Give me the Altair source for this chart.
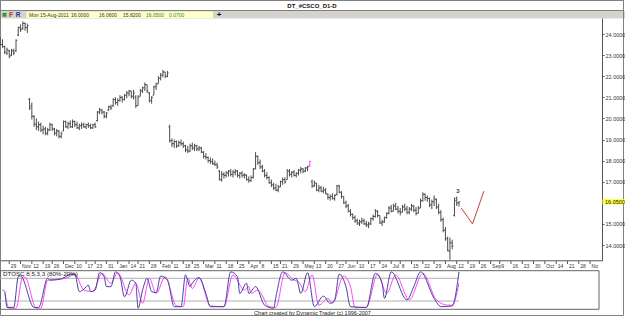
import altair as alt
import numpy as np
import pandas as pd

# ---------------- data ----------------
start_date = "2010-10-25"
holidays = ["2010-11-25", "2010-12-24", "2011-01-17", "2011-02-21", "2011-04-22",
            "2011-05-30", "2011-07-04", "2011-09-05"]

high = [23.85, 23.75, 23.45, 23.35, 23.25, 23.30, 23.30, 23.75, 24.35, 24.45,
        24.60, 24.55, 24.50, 20.97, 20.75, 20.15, 20.00, 19.85, 19.80, 19.65,
        19.60, 19.55, 19.80, 19.75, 19.55, 19.50, 19.45, 19.35, 19.90, 19.90,
        19.85, 19.90, 19.95, 19.90, 19.85, 19.75, 19.80, 19.80, 19.75, 19.80,
        19.75, 19.75, 19.80, 20.35, 20.50, 20.45, 20.35, 20.30, 20.60, 20.65,
        20.95, 21.00, 20.95, 21.10, 21.05, 21.15, 21.30, 21.35, 21.30, 21.35,
        21.10, 21.10, 21.40, 21.50, 21.70, 21.60, 21.25, 21.05, 21.55, 21.70,
        22.00, 22.15, 22.30, 22.20, 22.25, 19.70, 19.05, 19.00, 18.95, 18.95,
        19.00, 18.90, 18.75, 18.70, 18.80, 18.85, 18.80, 18.75, 18.70, 18.65,
        18.45, 18.35, 18.20, 18.15, 18.10, 18.00, 17.90, 17.55, 17.50, 17.45,
        17.50, 17.55, 17.60, 17.55, 17.60, 17.55, 17.45, 17.50, 17.40, 17.35,
        17.25, 17.30, 17.65, 18.40, 18.25, 18.05, 17.80, 17.60, 17.45, 17.25,
        17.10, 16.95, 16.90, 16.85, 17.05, 17.20, 17.20, 17.60, 17.60, 17.50,
        17.55, 17.45, 17.60, 17.70, 17.65, 17.70, 17.75, 18.00, 17.10, 17.05,
        16.95, 16.85, 16.80, 16.75, 16.70, 16.45, 16.40, 16.45, 16.40, 16.85,
        16.85, 16.55, 16.30, 16.10, 15.95, 15.70, 15.50, 15.40, 15.25, 15.20,
        15.30, 15.25, 15.15, 15.10, 15.30, 15.45, 15.70, 15.65, 15.40, 15.20,
        15.35, 15.55, 15.85, 15.90, 15.95, 16.00, 15.85, 15.75, 15.90, 15.95,
        15.85, 15.80, 15.95, 15.90, 15.80, 15.85, 16.20, 16.50, 16.45, 16.35,
        16.25, 16.15, 16.35, 16.20, 15.95, 15.65, 15.30, 14.85, 14.40, 14.35,
        14.25, 16.25, 16.30, 16.06]
low = [23.45, 23.35, 23.05, 23.00, 22.85, 22.95, 23.00, 23.15, 23.90, 24.10,
       24.20, 24.15, 24.05, 20.40, 19.95, 19.60, 19.45, 19.40, 19.35, 19.25,
       19.20, 19.20, 19.40, 19.40, 19.20, 19.15, 19.05, 19.05, 19.40, 19.55,
       19.50, 19.55, 19.55, 19.60, 19.50, 19.45, 19.50, 19.55, 19.50, 19.55,
       19.50, 19.50, 19.55, 19.85, 20.20, 20.20, 20.00, 20.00, 20.35, 20.40,
       20.55, 20.65, 20.60, 20.80, 20.75, 20.85, 20.95, 21.05, 20.95, 20.90,
       20.50, 20.60, 21.05, 21.20, 21.30, 21.20, 20.75, 20.70, 21.10, 21.35,
       21.65, 21.80, 21.95, 21.90, 21.95, 18.85, 18.65, 18.60, 18.60, 18.65,
       18.70, 18.60, 18.40, 18.35, 18.40, 18.50, 18.45, 18.45, 18.45, 18.35,
       18.10, 18.05, 17.90, 17.85, 17.80, 17.75, 17.60, 17.05, 17.00, 17.15,
       17.20, 17.25, 17.25, 17.20, 17.30, 17.20, 17.15, 17.20, 17.15, 17.05,
       16.95, 17.00, 17.15, 17.60, 17.80, 17.60, 17.45, 17.20, 17.10, 16.90,
       16.75, 16.60, 16.55, 16.50, 16.75, 16.85, 16.90, 17.10, 17.25, 17.20,
       17.25, 17.20, 17.30, 17.40, 17.40, 17.45, 17.50, 17.70, 16.70, 16.75,
       16.55, 16.50, 16.50, 16.45, 16.40, 16.15, 16.10, 16.15, 16.10, 16.35,
       16.45, 16.20, 15.95, 15.75, 15.55, 15.35, 15.20, 15.05, 14.95, 14.90,
       15.00, 14.95, 14.85, 14.80, 14.95, 15.15, 15.30, 15.30, 15.00, 14.90,
       15.05, 15.25, 15.45, 15.55, 15.60, 15.65, 15.50, 15.40, 15.55, 15.60,
       15.45, 15.45, 15.60, 15.55, 15.40, 15.50, 15.75, 16.05, 16.10, 16.05,
       15.80, 15.70, 15.85, 15.70, 15.45, 15.10, 14.60, 14.20, 13.70, 13.30,
       13.80, 15.35, 15.85, 15.82]
open_ = [23.80, 23.50, 23.40, 23.10, 23.20, 23.00, 23.20, 23.20, 23.95, 24.30,
         24.25, 24.50, 24.30, 20.90, 20.60, 20.10, 19.70, 19.60, 19.70, 19.45,
         19.50, 19.30, 19.45, 19.70, 19.50, 19.30, 19.40, 19.15, 19.40, 19.85,
         19.60, 19.75, 19.60, 19.85, 19.70, 19.55, 19.65, 19.70, 19.60, 19.70,
         19.65, 19.55, 19.70, 19.90, 20.30, 20.40, 20.30, 20.10, 20.40, 20.55,
         20.60, 20.90, 20.75, 20.85, 21.00, 20.90, 21.10, 21.20, 21.30, 21.05,
         21.00, 20.60, 21.05, 21.30, 21.45, 21.60, 21.20, 20.85, 21.10, 21.50,
         21.65, 21.90, 22.05, 22.20, 22.00, 19.60, 18.95, 18.80, 18.90, 18.70,
         18.85, 18.80, 18.70, 18.50, 18.45, 18.70, 18.60, 18.70, 18.55, 18.60,
         18.40, 18.20, 18.15, 18.00, 17.95, 17.85, 17.80, 17.50, 17.10, 17.35,
         17.30, 17.40, 17.50, 17.35, 17.45, 17.50, 17.30, 17.40, 17.30, 17.30,
         17.10, 17.05, 17.20, 17.60, 18.20, 17.90, 17.70, 17.50, 17.30, 17.20,
         16.95, 16.85, 16.70, 16.60, 16.75, 17.00, 17.10, 17.10, 17.50, 17.35,
         17.45, 17.30, 17.40, 17.55, 17.60, 17.50, 17.65, 17.75, 17.00, 16.80,
         16.90, 16.60, 16.70, 16.55, 16.60, 16.40, 16.25, 16.30, 16.20, 16.40,
         16.80, 16.50, 16.30, 16.00, 15.85, 15.60, 15.45, 15.30, 15.15, 15.00,
         15.10, 15.15, 15.00, 14.95, 15.00, 15.25, 15.35, 15.60, 15.40, 15.05,
         15.10, 15.30, 15.50, 15.75, 15.60, 15.85, 15.70, 15.60, 15.55, 15.80,
         15.70, 15.55, 15.70, 15.85, 15.65, 15.50, 15.75, 16.10, 16.40, 16.25,
         16.20, 15.90, 16.05, 16.15, 15.80, 15.55, 15.20, 14.70, 14.30, 13.70,
         14.10, 15.40, 16.20, 16.00]
close = [23.50, 23.40, 23.15, 23.25, 22.95, 23.20, 23.10, 23.70, 24.30, 24.20,
         24.50, 24.30, 24.40, 20.50, 20.10, 19.75, 19.60, 19.70, 19.45, 19.50,
         19.30, 19.45, 19.70, 19.50, 19.30, 19.40, 19.15, 19.30, 19.85, 19.60,
         19.75, 19.60, 19.85, 19.70, 19.55, 19.65, 19.70, 19.60, 19.70, 19.65,
         19.55, 19.70, 19.60, 20.30, 20.40, 20.30, 20.10, 20.25, 20.55, 20.50,
         20.90, 20.75, 20.85, 21.00, 20.90, 21.10, 21.20, 21.30, 21.05, 21.20,
         20.60, 21.00, 21.30, 21.45, 21.60, 21.30, 20.85, 21.00, 21.50, 21.60,
         21.90, 22.05, 22.20, 22.00, 22.15, 18.95, 18.80, 18.90, 18.70, 18.85,
         18.80, 18.70, 18.50, 18.45, 18.70, 18.60, 18.70, 18.55, 18.60, 18.40,
         18.20, 18.15, 18.00, 17.95, 17.85, 17.80, 17.70, 17.10, 17.35, 17.30,
         17.45, 17.50, 17.35, 17.45, 17.50, 17.30, 17.40, 17.30, 17.35, 17.10,
         17.05, 17.20, 17.60, 18.20, 17.90, 17.70, 17.50, 17.30, 17.20, 16.95,
         16.85, 16.70, 16.60, 16.75, 17.00, 17.10, 17.00, 17.50, 17.35, 17.45,
         17.30, 17.40, 17.55, 17.60, 17.50, 17.65, 17.70, 17.95, 16.80, 16.95,
         16.60, 16.70, 16.55, 16.60, 16.45, 16.25, 16.30, 16.20, 16.35, 16.80,
         16.50, 16.30, 16.00, 15.85, 15.60, 15.45, 15.30, 15.15, 15.05, 15.10,
         15.15, 15.00, 14.95, 15.00, 15.25, 15.35, 15.60, 15.40, 15.05, 15.10,
         15.30, 15.50, 15.75, 15.60, 15.85, 15.70, 15.60, 15.55, 15.80, 15.70,
         15.55, 15.70, 15.85, 15.65, 15.50, 15.75, 16.10, 16.40, 16.25, 16.20,
         15.90, 16.05, 16.20, 15.80, 15.55, 15.20, 14.70, 14.30, 13.75, 14.10,
         13.95, 16.10, 15.98, 16.05]
flagged_bars = [137]

# oscillator (DTOSC 8,5,3,3): fast line and slow line, read at bar indices
k_idx = [1, 2, 3, 6, 8, 9, 15, 17, 21, 22, 26, 29, 31, 33, 35, 37, 39, 40, 42, 44,
         46, 47, 49, 51, 53, 55, 58, 60, 61, 63, 65, 67, 69, 71, 74, 77, 80, 82, 84, 85,
         88, 91, 93, 99, 102, 105, 106, 109, 110, 113, 117, 121, 122, 125, 129, 131, 133, 136, 139, 143,
         146, 148, 150, 153, 155, 162, 166, 169, 170, 173, 180, 183, 186, 192, 195, 200, 203]
k_val = [49, 45, 3, 3, 84, 86, 3, 3, 80, 75, 77, 84, 91, 91, 45, 51, 62, 45, 49, 95,
         84, 58, 58, 97, 84, 31, 75, 67, 1, 49, 80, 45, 42, 86, 75, 5, 5, 89, 58, 67,
         82, 40, 5, 5, 97, 84, 40, 67, 40, 58, 9, 1, 31, 97, 75, 80, 40, 95, 5, 33,
         14, 23, 91, 58, 5, 3, 93, 67, 27, 97, 23, 58, 97, 27, 5, 7, 97]
d_idx = [2, 4, 7, 10, 11, 16, 18, 21, 29, 33, 37, 41, 45, 49, 52, 57, 60, 63, 66, 69,
         73, 78, 81, 83, 85, 88, 93, 99, 103, 108, 110, 111, 114, 119, 122, 126, 130, 132, 135, 138,
         141, 145, 147, 152, 155, 157, 162, 167, 171, 175, 181, 187, 193, 198, 200, 203]
d_val = [40, 1, 1, 84, 83, 1, 1, 75, 80, 91, 49, 45, 93, 67, 95, 36, 67, 14, 80, 40,
         84, 7, 5, 80, 53, 80, 7, 5, 89, 49, 58, 40, 49, 5, 3, 95, 75, 71, 45, 89,
         9, 27, 14, 86, 58, 3, 3, 91, 40, 89, 23, 93, 23, 9, 9, 67]
osc_levels = [80, 20]

proj_idx = [204, 209, 214]
proj_price = [15.75, 15.00, 16.55]
wave_label = "3"

price_ticks = [14, 15, 17, 18, 19, 20, 21, 22, 23, 24]
tick_dates = ["2010-10-29", "2010-11-05", "2010-11-12", "2010-11-19", "2010-11-26", "2010-12-03",
              "2010-12-10", "2010-12-17", "2010-12-23", "2010-12-31", "2011-01-07", "2011-01-14",
              "2011-01-21", "2011-01-28", "2011-02-04", "2011-02-11", "2011-02-18", "2011-02-25",
              "2011-03-04", "2011-03-11", "2011-03-18", "2011-03-25", "2011-04-01", "2011-04-08",
              "2011-04-15", "2011-04-21", "2011-04-29", "2011-05-06", "2011-05-13", "2011-05-20",
              "2011-05-27", "2011-06-03", "2011-06-10", "2011-06-17", "2011-06-24", "2011-07-01",
              "2011-07-08", "2011-07-15", "2011-07-22", "2011-07-29", "2011-08-05", "2011-08-12",
              "2011-08-19", "2011-08-26", "2011-09-02", "2011-09-09", "2011-09-16", "2011-09-23",
              "2011-09-30", "2011-10-07", "2011-10-14", "2011-10-21", "2011-10-28", "2011-11-04"]
tick_labels = ["29", "Nov", "12", "19", "26", "Dec", "10", "17", "23", "31", "Jan", "14", "21",
               "28", "Feb", "11", "18", "25", "Mar", "11", "18", "25", "Apr", "8", "15", "21",
               "29", "May", "13", "20", "27", "Jun", "10", "17", "24", "Jul", "8", "15", "22",
               "29", "Aug", "12", "19", "26", "Sep", "9", "16", "23", "30", "Oct", "14", "21",
               "28", "No"]

title_text = "DT_#CSCO_D1-D"
info_date = "Mon 15-Aug-2011"
osc_title = "DTOSC 8,5,3,3 (80%-20%)"
footer_text = "Chart created by Dynamic Trader  (c) 1996-2007"

# ---------------- layout constants ----------------
W, H = 602, 317
PX_DAY, X0 = 2.26, 0.2
FONT = "Liberation Sans"
BAR = "#4a4a4a"

xs = alt.Scale(domain=[(0 - X0) / PX_DAY, (W - X0) / PX_DAY], nice=False, zero=False)
ys = alt.Scale(domain=[24 - (H - 34) / 21.1, 24 + 34 / 21.1], nice=False, zero=False)
per, zero_y = 0.3783, 308.57
ysO = alt.Scale(domain=[-(H - zero_y) / per, zero_y / per], nice=False, zero=False)

yaxis = alt.Axis(orient="right", values=price_ticks, format=".4f", labelFontSize=5.5,
                 labelFont=FONT, labelColor="#333333", tickSize=2, tickColor="#555555",
                 labelPadding=1, domain=False, grid=False, title=None, zindex=1)


def X(f):
    return alt.X(f, type="quantitative", scale=xs, axis=None)


def Y(f):
    return alt.Y(f, type="quantitative", scale=ys, axis=yaxis)


def YO(f):
    return alt.Y(f, type="quantitative", scale=ysO, axis=None)


one = pd.DataFrame({"k": [0]})


def vrect(x, x2, y, y2, **kw):
    return alt.Chart(one).mark_rect(**kw).encode(
        x=alt.value(x), x2=alt.value(x2), y=alt.value(y), y2=alt.value(y2))


def hrule(x, x2, y, **kw):
    return alt.Chart(one).mark_rule(**kw).encode(x=alt.value(x), x2=alt.value(x2), y=alt.value(y))


def vline(x, y, y2, **kw):
    return alt.Chart(one).mark_rule(**kw).encode(x=alt.value(x), y=alt.value(y), y2=alt.value(y2))


def vtext(x, y, s, **kw):
    return alt.Chart(one).mark_text(**kw).encode(x=alt.value(x), y=alt.value(y), text=alt.value(s))


n = len(high)
assert len(low) == n and len(open_) == n and len(close) == n
bars = pd.DataFrame({"i": np.arange(n), "h": high, "l": low, "o": open_, "c": close})
bars["flag"] = bars["i"].isin(flagged_bars)

tick_idx = np.busday_count(start_date, tick_dates, holidays=holidays)
ticks = pd.DataFrame({"ti": tick_idx, "lab": tick_labels})

k_df = pd.DataFrame({"i": k_idx, "v": k_val})
d_df = pd.DataFrame({"i": d_idx, "v": d_val})
lev_df = pd.DataFrame({"v": osc_levels, "a": [xs.domain[0]] * 2, "b": [n - 1] * 2})
proj_df = pd.DataFrame({"i": proj_idx, "p": proj_price})

last_o, last_h, last_l, last_c = open_[-1], high[-1], low[-1], close[-1]
change = last_c - close[-2]

# ---------------- price group ----------------
bar_color = alt.condition(alt.datum.flag, alt.value("#ff40ff"), alt.value(BAR))

bar_rules = alt.Chart(bars).mark_rule(strokeWidth=1).encode(
    x=X("i"), y=Y("l"), y2=alt.Y2("h"), color=bar_color)
open_ticks = alt.Chart(bars).transform_calculate(io="datum.i - 0.55").mark_rule(strokeWidth=1).encode(
    x=X("io:Q"), x2=alt.X2("i"), y=Y("o"), color=bar_color)
close_ticks = alt.Chart(bars).transform_calculate(ic="datum.i + 0.55").mark_rule(strokeWidth=1).encode(
    x=X("i"), x2=alt.X2("ic:Q"), y=Y("c"), color=bar_color)

proj_line = alt.Chart(proj_df).mark_line(color="#b9473a", strokeWidth=1).encode(x=X("i"), y=Y("p"))
wave_txt = alt.Chart(pd.DataFrame({"i": [n - 1.5], "p": [16.55], "t": [wave_label]})).mark_text(
    fontSize=6, font=FONT, fontWeight="bold", color="#3a3a5a", baseline="middle").encode(
    x=X("i"), y=Y("p"), text="t:N")

hl_df = pd.DataFrame({"p": [last_c], "p1": [last_c + 0.125], "p2": [last_c - 0.125],
                      "t": [f"{last_c:.4f}"]})
hl_rect = alt.Chart(hl_df).mark_rect(color="#ffff33").encode(
    x=alt.value(602.5), x2=alt.value(625), y=Y("p1"), y2=alt.Y2("p2"))
hl_text = alt.Chart(hl_df).mark_text(fontSize=5.5, font=FONT, color="#222222", align="left",
                                     baseline="middle").encode(
    x=alt.value(605), y=Y("p"), text="t:N")

tick_rules = alt.Chart(ticks).mark_rule(color="#555555", strokeWidth=1).encode(
    x=X("ti"), y=alt.value(261), y2=alt.value(264))
tick_text = alt.Chart(ticks).mark_text(align="left", baseline="middle", dx=1.5, fontSize=5,
                                       font=FONT, color="#333333").encode(
    x=X("ti"), y=alt.value(265.8), text="lab:N")

header = [
    vrect(0.5, 623.5, 0.5, 10.5, fill="white", stroke="#808080", strokeWidth=1),
    vrect(0, 625, 11, 18.5, fill="#d6d3ce"),
    vrect(26.5, 213, 11.5, 18, fill="#ffffc8"),
    vrect(2.5, 6.5, 12.8, 16.8, fill="#2f9a3a"),
    vtext(312, 5.8, title_text, fontSize=6, fontWeight="bold", font=FONT, color="#111111",
          align="center", baseline="middle"),
    vtext(11, 14.9, "F", fontSize=6.5, fontWeight="bold", font=FONT, color="#c62828",
          align="center", baseline="middle"),
    vtext(18, 14.9, "R", fontSize=6.5, fontWeight="bold", font=FONT, color="#283593",
          align="center", baseline="middle"),
    vtext(219, 14.9, "+", fontSize=8, fontWeight="bold", font=FONT, color="#111111",
          align="center", baseline="middle"),
]
info_items = [(29, info_date, "#333333"), (71, f"{last_o:.4f}", "#333333"),
              (99, f"{last_h:.4f}", "#333333"), (123, f"{last_l:.4f}", "#333333"),
              (146, f"{last_c:.4f}", "#2e8b2e"), (169, f"{change:.4f}", "#2e8b2e")]
for xpx, s, col in info_items:
    header.append(vtext(xpx, 15, s, fontSize=5, font=FONT, color=col, align="left",
                        baseline="middle"))

frame = [
    vline(602.5, 18.5, 261, color="#555555", strokeWidth=1),
    hrule(0, 602.5, 260.8, color="#555555", strokeWidth=1),
    vrect(0.5, 623.5, 0.5, 315.5, fill="transparent", stroke="#808080", strokeWidth=1),
    vtext(312.5, 313, footer_text, fontSize=5.5, font=FONT, color="#222222", align="center",
          baseline="middle"),
]

price_group = alt.layer(*header, *frame, hl_rect, hl_text, tick_rules, tick_text,
                        bar_rules, open_ticks, close_ticks, proj_line, wave_txt)

# ---------------- oscillator group ----------------
osc_box = vrect(0.5, 599, 270.7, 309.3, fill="white", stroke="#666666", strokeWidth=1)
lev_rules = alt.Chart(lev_df).mark_rule(color="#b0b0b0", strokeWidth=1).encode(
    x=X("a"), x2=alt.X2("b"), y=YO("v"))
k_line = alt.Chart(k_df).mark_line(color="#44449a", strokeWidth=1, interpolate="monotone").encode(
    x=X("i"), y=YO("v"))
d_line = alt.Chart(d_df).mark_line(color="#ff44ff", strokeWidth=1, interpolate="monotone").encode(
    x=X("i"), y=YO("v"))
osc_lab = vtext(3, 274.3, osc_title, fontSize=6.2, font=FONT, color="#222222", align="left",
                baseline="middle")

osc_group = alt.layer(osc_box, lev_rules, d_line, k_line, osc_lab)

chart = alt.layer(price_group, osc_group).resolve_scale(y="independent").properties(
    width=W, height=H,
    autosize=alt.AutoSizeParams(type="none"),
    padding={"left": 0, "top": 0, "right": 23, "bottom": 0},
    background="white",
).configure_view(stroke=None)

chart.save("out.html", embed_options={"renderer": "svg", "actions": False})
